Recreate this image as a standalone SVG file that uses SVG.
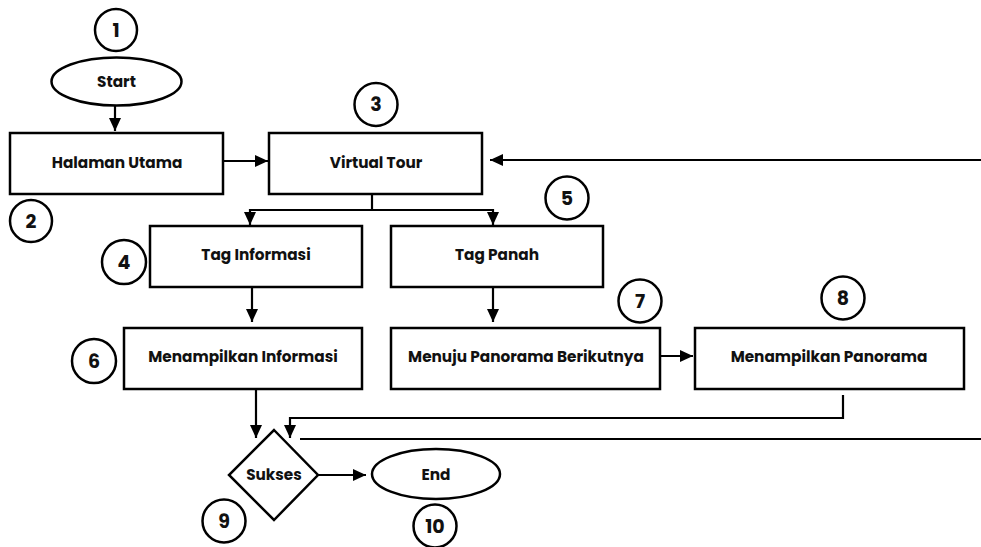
<svg xmlns="http://www.w3.org/2000/svg" width="981" height="547" viewBox="0 0 981 547">
<style>
.n{fill:#fff;stroke:#000;stroke-width:2.5}
.c{fill:#fff;stroke:#000;stroke-width:2.5}
.t{font-family:Poppins,Inter,"Noto Sans",sans-serif;font-weight:700;font-size:15.3px;fill:#111;text-anchor:middle;dominant-baseline:central}
.num{font-family:Poppins,Inter,"Noto Sans",sans-serif;font-weight:700;font-size:19px;fill:#111;text-anchor:middle;dominant-baseline:central}
.e{fill:none;stroke:#000;stroke-width:2.2}
</style>
<defs>
<marker id="ah" markerUnits="userSpaceOnUse" markerWidth="14" markerHeight="14" viewBox="0 0 14 14" refX="13" refY="7" orient="auto">
<path d="M0,1 L13,7 L0,13 Z" fill="#000"/>
</marker>
</defs>
<g id="connectors">
<line class="e" x1="115" y1="106" x2="115" y2="131" marker-end="url(#ah)"/>
<line class="e" x1="223" y1="161" x2="268" y2="161" marker-end="url(#ah)"/>
<line class="e" x1="981" y1="160" x2="490" y2="160" marker-end="url(#ah)"/>
<polyline class="e" points="372,194 372,210"/>
<polyline class="e" points="372,210 250,210 250,225" marker-end="url(#ah)"/>
<polyline class="e" points="372,210 493,210 493,225" marker-end="url(#ah)"/>
<line class="e" x1="252" y1="287" x2="252" y2="322" marker-end="url(#ah)"/>
<line class="e" x1="493" y1="287" x2="493" y2="322" marker-end="url(#ah)"/>
<line class="e" x1="660" y1="356" x2="693" y2="356" marker-end="url(#ah)"/>
<line class="e" x1="256" y1="389" x2="256" y2="438" marker-end="url(#ah)"/>
<polyline class="e" points="843,395 843,418 290,418 290,438" marker-end="url(#ah)"/>
<line class="e" x1="300" y1="439" x2="981" y2="439"/>
<line class="e" x1="318" y1="475" x2="366" y2="475" marker-end="url(#ah)"/>
</g>
<g id="c1"><circle class="c" cx="116" cy="30" r="21"/><text class="num" x="116" y="30">1</text></g>
<g id="start"><ellipse class="n" cx="116.5" cy="81.5" rx="65" ry="24"/><text class="t" x="116.5" y="81">Start</text></g>
<g id="halaman"><rect class="n" x="10" y="133" width="213" height="61"/><text class="t" x="117" y="162">Halaman Utama</text></g>
<g id="c2"><circle class="c" cx="31" cy="221" r="21"/><text class="num" x="31" y="221">2</text></g>
<g id="virtual"><rect class="n" x="269" y="133" width="213" height="61"/><text class="t" x="376" y="162">Virtual Tour</text></g>
<g id="c3"><circle class="c" cx="376" cy="104.5" r="21.5"/><text class="num" x="376" y="104.5">3</text></g>
<g id="taginfo"><rect class="n" x="150" y="226" width="212" height="61"/><text class="t" x="256" y="254">Tag Informasi</text></g>
<g id="c4"><circle class="c" cx="124" cy="262" r="22"/><text class="num" x="124" y="262">4</text></g>
<g id="tagpanah"><rect class="n" x="391" y="226" width="212" height="61"/><text class="t" x="497" y="254">Tag Panah</text></g>
<g id="c5"><circle class="c" cx="567" cy="198" r="21.5"/><text class="num" x="567" y="198">5</text></g>
<g id="meninfo"><rect class="n" x="124" y="328" width="238" height="61"/><text class="t" x="243" y="356">Menampilkan Informasi</text></g>
<g id="c6"><circle class="c" cx="94" cy="361" r="22"/><text class="num" x="94" y="361">6</text></g>
<g id="menuju"><rect class="n" x="391" y="328" width="269" height="61"/><text class="t" x="526" y="356">Menuju Panorama Berikutnya</text></g>
<g id="c7"><circle class="c" cx="640" cy="301" r="21.5"/><text class="num" x="640" y="301">7</text></g>
<g id="menpan"><rect class="n" x="695" y="328" width="269" height="61"/><text class="t" x="829" y="356">Menampilkan Panorama</text></g>
<g id="c8"><circle class="c" cx="843" cy="298" r="21.5"/><text class="num" x="843" y="298">8</text></g>
<g id="sukses"><polygon class="n" points="274,430 318,475 274,520 229,475"/><text class="t" x="274" y="474">Sukses</text></g>
<g id="c9"><circle class="c" cx="224" cy="521" r="21.5"/><text class="num" x="224" y="521">9</text></g>
<g id="end"><ellipse class="n" cx="436" cy="474" rx="64" ry="25"/><text class="t" x="436" y="474">End</text></g>
<g id="c10"><circle class="c" cx="435" cy="526" r="21.5"/><text class="num" x="435" y="526">10</text></g>
</svg>
